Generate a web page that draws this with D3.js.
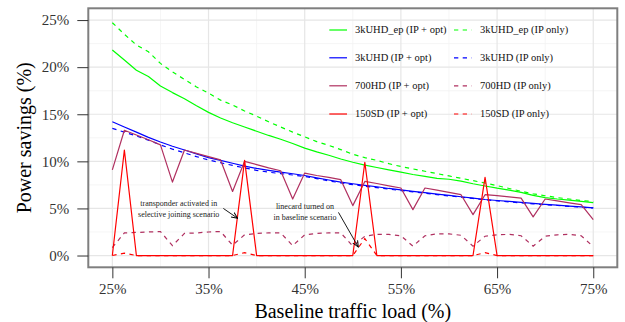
<!DOCTYPE html>
<html><head><meta charset="utf-8">
<script src="https://cdn.jsdelivr.net/npm/d3@7/dist/d3.min.js"></script>
<style>html,body{margin:0;padding:0;background:#fff;} svg{display:block;}</style>
</head><body>
<svg id="chart" width="625" height="322"></svg>
<script>
// ---------------- data ----------------
const loads = [25, 26.25, 27.5, 28.75, 30, 31.25, 32.5, 33.75, 35, 36.25, 37.5, 38.75, 40, 41.25, 42.5, 43.75, 45, 46.25, 47.5, 48.75, 50, 51.25, 52.5, 53.75, 55, 56.25, 57.5, 58.75, 60, 61.25, 62.5, 63.75, 65, 66.25, 67.5, 68.75, 70, 71.25, 72.5, 73.75, 75];

const uhdEpOpt = [21.82, 20.76, 19.68, 19.0, 18.0, 17.3, 16.65, 15.9, 15.2, 14.6, 14.1, 13.65, 13.2, 12.75, 12.35, 11.9, 11.4, 11.0, 10.65, 10.25, 9.9, 9.6, 9.35, 9.1, 8.85, 8.6, 8.4, 8.2, 8.1, 7.9, 7.62, 7.38, 7.15, 6.95, 6.7, 6.38, 6.15, 6.0, 5.88, 5.75, 5.62];
const uhdEpIp  = [24.72, 23.5, 22.35, 21.64, 20.4, 19.5, 18.7, 17.9, 17.25, 16.5, 15.98, 15.35, 14.8, 14.2, 13.65, 13.1, 12.6, 12.1, 11.7, 11.25, 10.75, 10.4, 10.1, 9.75, 9.45, 9.2, 8.95, 8.7, 8.45, 8.2, 7.95, 7.7, 7.42, 7.12, 6.82, 6.55, 6.35, 6.15, 6.0, 5.85, 5.72];
const uhdOpt   = [14.2, 13.65, 13.1, 12.55, 12.05, 11.6, 11.2, 10.8, 10.4, 10.1, 9.8, 9.5, 9.25, 9.05, 8.85, 8.68, 8.5, 8.25, 8.02, 7.8, 7.62, 7.45, 7.3, 7.12, 6.97, 6.82, 6.68, 6.52, 6.38, 6.24, 6.1, 5.95, 5.84, 5.74, 5.64, 5.54, 5.44, 5.35, 5.25, 5.16, 5.07];
const uhdIp    = [13.5, 13.1, 12.7, 12.25, 11.75, 11.3, 10.9, 10.5, 10.15, 9.85, 9.57, 9.3, 9.05, 8.85, 8.7, 8.55, 8.4, 8.17, 7.93, 7.72, 7.52, 7.36, 7.2, 7.05, 6.9, 6.76, 6.61, 6.47, 6.33, 6.2, 6.06, 5.92, 5.8, 5.69, 5.59, 5.49, 5.4, 5.31, 5.22, 5.13, 5.05];
const hdOpt    = [9.1, 13.3, 12.8, 12.3, 11.75, 7.8, 11.2, 10.85, 10.5, 10.15, 6.8, 10.0, 9.65, 9.3, 9.0, 6.0, 8.75, 8.5, 8.3, 8.05, 5.3, 7.87, 7.65, 7.4, 7.17, 4.87, 7.17, 6.95, 6.7, 6.46, 4.34, 6.46, 6.35, 6.22, 6.1, 4.1, 6.0, 5.8, 5.6, 5.4, 3.8];
const hdIp     = [0.85, 2.4, 2.45, 2.5, 2.55, 1.05, 2.35, 2.4, 2.5, 2.55, 1.1, 2.2, 2.35, 2.4, 2.4, 1.05, 2.2, 2.35, 2.4, 2.4, 1.0, 2.05, 2.25, 2.25, 2.1, 1.0, 2.1, 2.3, 2.3, 2.15, 1.0, 2.05, 2.2, 2.25, 2.1, 1.0, 2.05, 2.2, 2.25, 2.1, 0.95];
const sdOpt    = [0, 11.2, 0, 0, 0, 0, 0, 0, 0, 0, 0, 10.1, 0, 0, 0, 0, 0, 0, 0, 0, 0, 9.9, 0, 0, 0, 0, 0, 0, 0, 0, 0, 8.3, 0, 0, 0, 0, 0, 0, 0, 0, 0];
const sdIp     = [0, 0.25, 0, 0, 0, 0, 0, 0, 0, 0, 0, 0.3, 0, 0, 0, 0, 0, 0, 0, 0, 0, 1.8, 0, 0, 0, 0, 0, 0, 0, 0, 0, 0.3, 0, 0, 0, 0, 0, 0, 0, 0, 0];

const seriesNames = ["3kUHD_ep", "3kUHD", "700HD", "150SD"];
const seriesColors = ["#00ff00", "#0000ff", "#b03060", "#ff0000"];
const optValues = [uhdEpOpt, uhdOpt, hdOpt, sdOpt];
const ipValues = [uhdEpIp, uhdIp, hdIp, sdIp];

const xTicks = [25, 35, 45, 55, 65, 75];
const xTickLabels = ["25%", "35%", "45%", "55%", "65%", "75%"];
const xMinor = [30, 40, 50, 60, 70];
const yTicks = [0, 5, 10, 15, 20, 25];
const yTickLabels = ["0%", "5%", "10%", "15%", "20%", "25%"];
const yMinor = [2.5, 7.5, 12.5, 17.5, 22.5];

const xTitle = "Baseline traffic load (%)";
const yTitle = "Power savings (%)";

const notes = [
  {lines: ["transponder activated in", "selective joining scenario"], x: 31.9, y: [5.3, 4.08],
   arrow: [[36.54, 5.0], [38.03, 3.95]]},
  {lines: ["linecard turned on", "in baseline scenario"], x: 45.03, y: [4.9, 3.73],
   arrow: [[48.51, 4.58], [50.57, 0.9]]}
];

// ---------------- drawing ----------------
const svg = d3.select("#chart");
const L = 88.3, R = 617.3, T = 8.3, B = 267.3;
const FONT = "'Liberation Serif', 'Times New Roman', serif";

const x = d3.scaleLinear().domain([22.5, 77.5]).range([L, R]);
const y = d3.scaleLinear().domain([-1.25, 26.25]).range([B, T]);

svg.append("rect").attr("width", 625).attr("height", 322).attr("fill", "#fff");

const grid = svg.append("g");
grid.selectAll(".vmin").data(xMinor).join("line")
  .attr("x1", d => x(d)).attr("x2", d => x(d)).attr("y1", T).attr("y2", B)
  .attr("stroke", "#f2f2f2").attr("stroke-width", 0.8);
grid.selectAll(".hmin").data(yMinor).join("line")
  .attr("y1", d => y(d)).attr("y2", d => y(d)).attr("x1", L).attr("x2", R)
  .attr("stroke", "#f2f2f2").attr("stroke-width", 0.8);
grid.selectAll(".vmaj").data(xTicks).join("line")
  .attr("x1", d => x(d)).attr("x2", d => x(d)).attr("y1", T).attr("y2", B)
  .attr("stroke", "#e6e6e6").attr("stroke-width", 1.2);
grid.selectAll(".hmaj").data(yTicks).join("line")
  .attr("y1", d => y(d)).attr("y2", d => y(d)).attr("x1", L).attr("x2", R)
  .attr("stroke", "#e6e6e6").attr("stroke-width", 1.2);

// lines
const line = d3.line().x((d, i) => x(loads[i])).y(d => y(d));
const plot = svg.append("g");
seriesNames.forEach((name, k) => {
  plot.append("path").datum(optValues[k])
    .attr("d", line).attr("fill", "none")
    .attr("stroke", seriesColors[k]).attr("stroke-width", 1.2)
    .attr("stroke-linejoin", "round");
  plot.append("path").datum(ipValues[k])
    .attr("d", line).attr("fill", "none")
    .attr("stroke", seriesColors[k]).attr("stroke-width", 1.2)
    .attr("stroke-dasharray", "4.3,4.4");
});

// panel border
svg.append("rect").attr("x", L).attr("y", T).attr("width", R - L).attr("height", B - T)
  .attr("fill", "none").attr("stroke", "#7f7f7f").attr("stroke-width", 2);

// axes
const xAxis = d3.axisBottom(x).tickValues(xTicks).tickFormat((d, i) => xTickLabels[i])
  .tickSize(11).tickPadding(5);
const gx = svg.append("g").attr("transform", `translate(0,${B})`).call(xAxis);
const yAxis = d3.axisLeft(y).tickValues(yTicks).tickFormat((d, i) => yTickLabels[i])
  .tickSize(11).tickPadding(8);
const gy = svg.append("g").attr("transform", `translate(${L},0)`).call(yAxis);
[gx, gy].forEach(g => {
  g.select(".domain").remove();
  g.selectAll(".tick line").attr("stroke", "#333").attr("stroke-width", 1);
  g.selectAll(".tick text").attr("font-family", FONT).attr("font-size", 15).attr("fill", "#333");
});

svg.append("text").attr("x", (L + R) / 2).attr("y", 317.5).attr("text-anchor", "middle")
  .attr("font-family", FONT).attr("font-size", 20).attr("fill", "#000").text(xTitle);
svg.append("text").attr("transform", `translate(31,${(T + B) / 2}) rotate(-90)`)
  .attr("text-anchor", "middle")
  .attr("font-family", FONT).attr("font-size", 20).attr("fill", "#000").text(yTitle);

// legend
const leg = svg.append("g");
const rowY = [30, 57.8, 85.8, 114];
seriesNames.forEach((name, k) => {
  leg.append("line").attr("x1", 329.3).attr("x2", 347).attr("y1", rowY[k]).attr("y2", rowY[k])
    .attr("stroke", seriesColors[k]).attr("stroke-width", 1.2);
  leg.append("text").attr("x", 355).attr("y", rowY[k]).attr("dy", "0.33em")
    .attr("font-family", FONT).attr("font-size", 10.5).attr("fill", "#111")
    .text(name + " (IP + opt)");
  leg.append("line").attr("x1", 454).attr("x2", 471.7).attr("y1", rowY[k]).attr("y2", rowY[k])
    .attr("stroke", seriesColors[k]).attr("stroke-width", 1.2).attr("stroke-dasharray", "4.3,4.4");
  leg.append("text").attr("x", 480).attr("y", rowY[k]).attr("dy", "0.33em")
    .attr("font-family", FONT).attr("font-size", 10.5).attr("fill", "#111")
    .text(name + " (IP only)");
});

// annotations
const defs = svg.append("defs");
defs.append("marker").attr("id", "arr").attr("viewBox", "0 0 10 10")
  .attr("refX", 9).attr("refY", 5).attr("markerWidth", 7).attr("markerHeight", 7)
  .attr("markerUnits", "userSpaceOnUse").attr("orient", "auto")
  .append("path").attr("d", "M0,1 L9,5 L0,9").attr("fill", "none")
  .attr("stroke", "#000").attr("stroke-width", 1.4);

notes.forEach(n => {
  n.lines.forEach((t, j) => {
    svg.append("text").attr("x", x(n.x)).attr("y", y(n.y[j])).attr("text-anchor", "middle")
      .attr("font-family", FONT).attr("font-size", 8).attr("fill", "#222").text(t);
  });
  svg.append("line").attr("x1", x(n.arrow[0][0])).attr("y1", y(n.arrow[0][1]))
    .attr("x2", x(n.arrow[1][0])).attr("y2", y(n.arrow[1][1]))
    .attr("stroke", "#000").attr("stroke-width", 0.9).attr("marker-end", "url(#arr)");
});
</script>
</body></html>
